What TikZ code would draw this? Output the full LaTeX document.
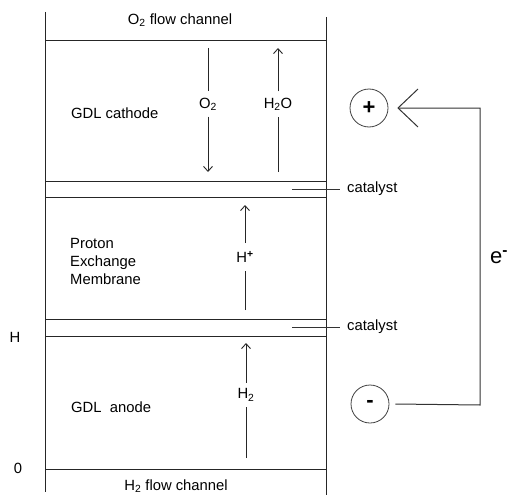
\documentclass[tikz,border=0pt]{standalone}
\usepackage{fontspec}
\setmainfont{Liberation Sans}
\usetikzlibrary{arrows.meta}
\tikzset{
  wall/.style={draw=black!85, line width=1pt},
  lbl/.style={font=\fontsize{14.8}{18}\selectfont, inner sep=0pt},
  flowlbl/.style={font=\fontsize{14.8}{18}\selectfont, inner sep=6pt},
  flow/.style={draw=black!85, line width=0.9pt},
  flowarrow/.style={flow, -{Straight Barb[length=5pt,width=9pt]}},
  pole/.style={circle, draw=black!75, line width=0.8pt, minimum size=38pt, inner sep=0pt, font=\fontsize{22}{22}\selectfont\bfseries},
  wire/.style={draw=black!80, line width=1pt}
}
\begin{document}
\begin{tikzpicture}[x=1pt,y=-1pt]
\useasboundingbox (0,0) rectangle (511,495);
% walls
\coordinate (lt) at (45,12); \coordinate (lb) at (45,492);
\coordinate (rt) at (326,17); \coordinate (rb) at (326,495);
\draw[wall] (lt) -- (lb);
\draw[wall] (rt) -- (rb);
\foreach \y/\n in {41/a,181/b,197/c,319/d,336/e,469/f}{
  \coordinate (L\n) at (45,\y); \coordinate (R\n) at (326,\y);
  \draw[wall] (L\n) -- (R\n);
}
% texts
\node[lbl] (o2ch) at (180,20) {O\textsubscript{2} flow channel};
\node[lbl] (h2ch) at (176,486) {H\textsubscript{2} flow channel};
\node[lbl, anchor=west] (cath) at (71,113) {GDL cathode};
\node[lbl, anchor=west] (anode) at (71,407) {GDL\ \ anode};
\node[lbl, anchor=west, align=left, font=\fontsize{14.8}{18}\selectfont] (pem) at (70,261) {Proton\\Exchange\\Membrane};
\node[lbl] (Hlab) at (15,337) {H};
\node[lbl] (zero) at (18,468) {0};
% flows
\node[flowlbl] (o2) at (208,104) {O\textsubscript{2}};
\coordinate (o2t) at (208,48); \coordinate (o2b) at (208,172);
\draw[flow] (o2t) -- (o2.north);
\draw[flowarrow] (o2.south) -- (o2b);
\node[flowlbl] (h2o) at (278,104) {H\textsubscript{2}O};
\coordinate (h2ot) at (278,48); \coordinate (h2ob) at (278,172);
\draw[flow] (h2ob) -- (h2o.south);
\draw[flowarrow] (h2o.north) -- (h2ot);
\node[flowlbl, inner sep=8pt] (hp) at (245,257) {H\textsuperscript{\textbf{+}}};
\coordinate (hpt) at (245,205); \coordinate (hpb) at (245,310);
\draw[flow] (hpb) -- (hp.south);
\draw[flowarrow] (hp.north) -- (hpt);
\node[flowlbl] (h2) at (246,395) {H\textsubscript{2}};
\coordinate (h2t) at (246,343); \coordinate (h2b) at (246,458);
\draw[flow] (h2b) -- (h2.south);
\draw[flowarrow] (h2.north) -- (h2t);
% catalyst
\node[lbl, anchor=west] (cat1) at (347,189) {catalyst};
\node[lbl, anchor=west] (cat2) at (347,327) {catalyst};
\coordinate (c1) at (292,189); \coordinate (c2) at (292,327);
\draw[wire] (c1) -- ([xshift=-7pt]cat1.west);
\draw[wire] (c2) -- ([xshift=-7pt]cat2.west);
% circuit
\node[pole] (plus) at (369,108) {+};
\node[pole] (minus) at (370,404) {-};
\coordinate (w1) at (480,405); \coordinate (w2) at (480,108);
\coordinate (tip) at (398,108);
\draw[wire] ([xshift=6pt]minus.east) -- (w1) -- (w2) -- (tip);
\draw[wire] (418,89) -- (tip) -- (418,127);
\node[font=\fontsize{22}{22}\selectfont, inner sep=0pt] (e) at (499,257) {e\textsuperscript{\textbf{-}}};
\end{tikzpicture}
\end{document}
